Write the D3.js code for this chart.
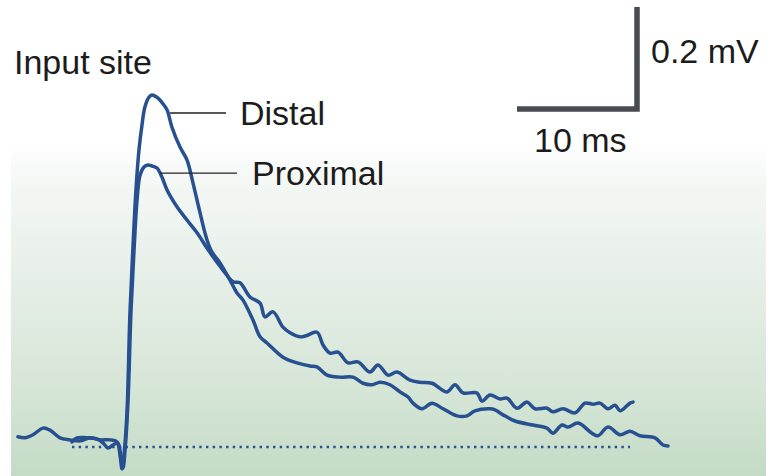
<!DOCTYPE html>
<html>
<head>
<meta charset="utf-8">
<script src="https://cdn.jsdelivr.net/npm/d3@7"></script>
<style>
  html, body { margin: 0; padding: 0; background: #ffffff; }
  svg { display: block; }
  text { font-family: "Liberation Sans", Arial, sans-serif; fill: #1c1c1c; }
</style>
</head>
<body>
<svg id="chart" width="782" height="476"></svg>
<script>
// Recorded EPSPs at the input site (time in ms from stimulus, voltage in mV above rest)
const distalTime = [-8.5, -7.92, -7.25, -6.42, -5.83, -5.0, -4.17, -3.33, -2.5, -1.67, -0.83, -0.25,
  0, 0.17, 0.33, 0.58, 0.83, 1.08, 1.33, 1.58, 1.83, 2.08, 2.42, 2.67, 2.92, 3.17, 3.58, 3.92, 4.33,
  5.0, 5.58, 6.08, 6.67, 7.25, 7.67, 8.33, 9.17, 9.75, 10.25, 11.08, 11.67, 12.25, 13.58, 14.75,
  15.83, 16.42, 17.25, 18.33, 19.42, 20.25, 21.0, 21.67, 22.5, 23.33, 24.0, 24.42, 25.17, 26.0,
  26.92, 28.08, 28.92, 29.58, 30.83, 31.25, 31.92, 32.92, 34.42, 35.58, 36.08, 36.83, 37.33, 38.17,
  39.33, 39.83, 40.67, 41.67, 42.5, 43.33, 44.58, 45.25, 45.67];
const distalMv = [0.020, 0.018, 0.024, 0.037, 0.033, 0.018, 0.014, 0.012, 0.018, 0.014, 0.014, 0.010,
  -0.016, -0.043, -0.016, 0.067, 0.263, 0.392, 0.504, 0.582, 0.631, 0.667, 0.686, 0.690, 0.688, 0.684,
  0.673, 0.661, 0.627, 0.588, 0.563, 0.518, 0.459, 0.406, 0.382, 0.361, 0.327, 0.302, 0.288, 0.249,
  0.216, 0.204, 0.176, 0.165, 0.159, 0.157, 0.141, 0.137, 0.137, 0.125, 0.122, 0.127, 0.122, 0.108,
  0.098, 0.086, 0.075, 0.086, 0.075, 0.061, 0.061, 0.071, 0.075, 0.073, 0.063, 0.051, 0.043, 0.037,
  0.027, 0.043, 0.039, 0.047, 0.027, 0.022, 0.039, 0.024, 0.031, 0.022, 0.018, 0.004, 0.002];

const proximalTime = [-4.0, -3.58, -2.75, -1.92, -1.42, -1.0, -0.58, -0.17, 0.08, 0.25, 0.42, 0.67,
  0.92, 1.17, 1.42, 1.67, 2.0, 2.33, 2.67, 3.08, 3.5, 3.92, 4.75, 5.58, 6.42, 7.25, 7.75, 8.58, 9.42,
  10.0, 10.83, 11.67, 12.08, 12.75, 13.58, 14.17, 15.0, 15.5, 16.42, 16.92, 17.5, 18.17, 19.0, 19.83,
  20.83, 21.5, 22.33, 23.08, 24.17, 25.0, 26.0, 27.25, 27.92, 28.58, 29.75, 30.17, 30.83, 31.67,
  32.25, 33.08, 33.92, 34.58, 35.58, 36.08, 36.92, 37.92, 38.75, 39.42, 40.0, 40.67, 41.25, 41.67,
  42.5, 42.75];
const proximalMv = [0.010, 0.018, 0.018, 0.016, 0.008, -0.002, 0.004, 0.008, -0.022, -0.041, -0.006,
  0.092, 0.269, 0.386, 0.484, 0.533, 0.549, 0.553, 0.551, 0.547, 0.529, 0.504, 0.471, 0.445, 0.420,
  0.390, 0.373, 0.347, 0.324, 0.322, 0.294, 0.282, 0.255, 0.265, 0.235, 0.224, 0.216, 0.218, 0.225,
  0.200, 0.184, 0.186, 0.165, 0.167, 0.147, 0.161, 0.141, 0.147, 0.131, 0.127, 0.125, 0.108, 0.122,
  0.106, 0.106, 0.090, 0.102, 0.094, 0.096, 0.076, 0.088, 0.075, 0.076, 0.069, 0.075, 0.067, 0.086,
  0.084, 0.086, 0.075, 0.082, 0.071, 0.086, 0.088];

// Resting baseline span (ms) and scale-bar sizes
const baselineSpan = [-4.0, 42.5];
const scaleBarMs = 10;
const scaleBarMv = 0.2;
const scaleBarLabels = ["10 ms", "0.2 mV"];
const seriesLabels = ["Distal", "Proximal"];
const titleLabel = "Input site";
// Where each leader line leaves its trace (ms, mV)
const leaderAnchors = [[4.17, 0.655], [3.33, 0.537]];

const svg = d3.select("#chart");
const W = 782, H = 476;
const traceColor = "#26508f";
const fontSize = 34;

// time: 12 px per ms, stimulus at x=120; voltage: 510 px per mV, rest at y=447
const x = d3.scaleLinear().domain([0, 10]).range([120, 240]);
const y = d3.scaleLinear().domain([0, 0.2]).range([447, 345]);

// Background panel fading from white to pale green
const defs = svg.append("defs");
const grad = defs.append("linearGradient")
  .attr("id", "bg").attr("x1", 0).attr("y1", 0).attr("x2", 0).attr("y2", 1);
[[0, "#ffffff"], [0.14, "#f3f7f4"], [0.48, "#e3ede4"], [0.78, "#d3e4d4"], [1, "#c4dbc5"]]
  .forEach(([o, c]) => grad.append("stop").attr("offset", o).attr("stop-color", c));
svg.append("rect").attr("x", 11).attr("y", 140).attr("width", 755).attr("height", H - 140)
  .attr("fill", "url(#bg)");

// Dotted resting baseline
svg.append("line")
  .attr("x1", x(baselineSpan[0])).attr("x2", x(baselineSpan[1]))
  .attr("y1", y(0)).attr("y2", y(0))
  .attr("stroke", traceColor).attr("stroke-width", 2.6)
  .attr("stroke-dasharray", "2.4,4.3");

const line = d3.line()
  .x(d => x(d[0])).y(d => y(d[1]))
  .curve(d3.curveCatmullRom.alpha(0.5));

const series = [
  d3.zip(distalTime, distalMv),
  d3.zip(proximalTime, proximalMv)
];
series.forEach(pts => {
  svg.append("path").attr("d", line(pts))
    .attr("fill", "none").attr("stroke", traceColor)
    .attr("stroke-width", 3.5).attr("stroke-linejoin", "round").attr("stroke-linecap", "round");
});

// Leader lines and labels
const leaderEnds = [232, 243];
const labelX = [240, 252];
leaderAnchors.forEach((a, i) => {
  const ly = y(a[1]);
  svg.append("line")
    .attr("x1", x(a[0])).attr("x2", leaderEnds[i] - 6)
    .attr("y1", ly).attr("y2", ly)
    .attr("stroke", "#222").attr("stroke-width", 1.4);
  svg.append("text").attr("x", labelX[i]).attr("y", ly + 12)
    .attr("font-size", fontSize).text(seriesLabels[i]);
});

svg.append("text").attr("x", 14).attr("y", 74).attr("font-size", fontSize).text(titleLabel);

// Scale bar anchored at its corner
const cornerX = 637, cornerY = 109;
const barW = x(scaleBarMs) - x(0);
const barH = y(0) - y(scaleBarMv);
svg.append("path")
  .attr("d", `M${cornerX - barW},${cornerY}H${cornerX}V${cornerY - barH}`)
  .attr("fill", "none").attr("stroke", "#474c52").attr("stroke-width", 5.5)
  .attr("stroke-linejoin", "miter");
svg.append("text").attr("x", 534).attr("y", 152).attr("font-size", fontSize).text(scaleBarLabels[0]);
svg.append("text").attr("x", 651).attr("y", 63).attr("font-size", fontSize).text(scaleBarLabels[1]);
</script>
</body>
</html>
